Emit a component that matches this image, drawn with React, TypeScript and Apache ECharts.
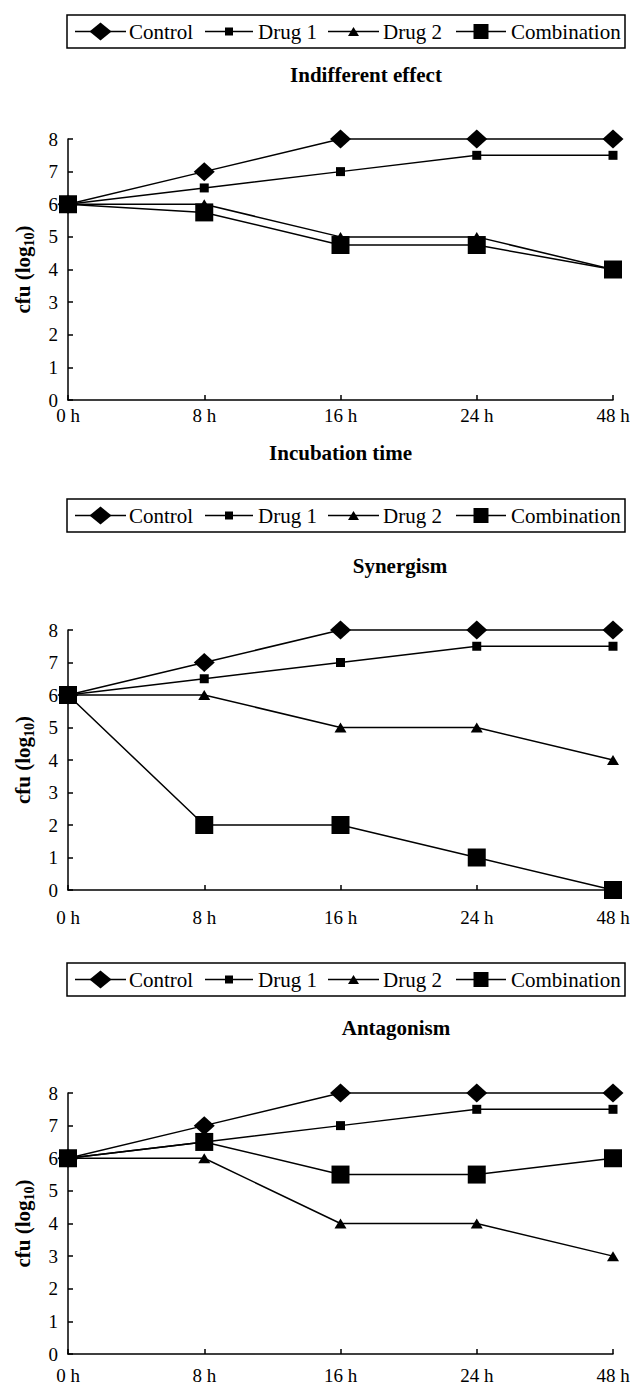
import React, { useEffect, useRef } from "react";
import * as echarts from "echarts";

// ---------- data ----------
const timeLabels = ["0 h", "8 h", "16 h", "24 h", "48 h"];
const seriesNames = ["Control", "Drug 1", "Drug 2", "Combination"];
const panelTitles = ["Indifferent effect", "Synergism", "Antagonism"];
const xAxisTitle = "Incubation time";
const yAxisMin = 0;
const yAxisMax = 8;
const yAxisStep = 1;

const indifferentControl = [6, 7, 8, 8, 8];
const indifferentDrug1 = [6, 6.5, 7, 7.5, 7.5];
const indifferentDrug2 = [6, 6, 5, 5, 4];
const indifferentCombination = [6, 5.75, 4.75, 4.75, 4];

const synergismControl = [6, 7, 8, 8, 8];
const synergismDrug1 = [6, 6.5, 7, 7.5, 7.5];
const synergismDrug2 = [6, 6, 5, 5, 4];
const synergismCombination = [6, 2, 2, 1, 0];

const antagonismControl = [6, 7, 8, 8, 8];
const antagonismDrug1 = [6, 6.5, 7, 7.5, 7.5];
const antagonismDrug2 = [6, 6, 4, 4, 3];
const antagonismCombination = [6, 6.5, 5.5, 5.5, 6];

const panelData = [
  [indifferentControl, indifferentDrug1, indifferentDrug2, indifferentCombination],
  [synergismControl, synergismDrug1, synergismDrug2, synergismCombination],
  [antagonismControl, antagonismDrug1, antagonismDrug2, antagonismCombination],
];

// ---------- styling / layout ----------
const FONT = "'Liberation Serif', 'Times New Roman', serif";
const INK = "#000";
const LW = 1.5;

const symbols: any[] = [
  { symbol: "diamond", size: [21, 19] },
  { symbol: "rect", size: 9 },
  { symbol: "triangle", size: [12, 10] },
  { symbol: "rect", size: 18 },
];

const layout = [
  { legendTop: 15, titleX: 366, titleY: 75, gridTop: 139, gridHeight: 261, labelMargin: 6 },
  { legendTop: 499, titleX: 400, titleY: 566, gridTop: 630, gridHeight: 260, labelMargin: 18 },
  { legendTop: 963, titleX: 396, titleY: 1028, gridTop: 1093, gridHeight: 261, labelMargin: 12 },
];

const GRID_LEFT = 68;
const GRID_WIDTH = 545;
const LEGEND_LEFT = 67;
const LEGEND_W = 558;
const LEGEND_H = 33;

function legendGroup(top: number) {
  const cy = LEGEND_H / 2;
  const items = [
    { x1: 8, x2: 59, mx: 33.5, tx: 62, kind: "diamond", w: 22, h: 18 },
    { x1: 138, x2: 186, mx: 162, tx: 191, kind: "rect", w: 8, h: 8 },
    { x1: 261, x2: 312, mx: 286.5, tx: 316, kind: "triangle", w: 11, h: 9 },
    { x1: 389, x2: 439, mx: 414, tx: 444, kind: "rect", w: 15, h: 15 },
  ];
  const children: any[] = [
    {
      type: "rect",
      shape: { x: 0, y: 0, width: LEGEND_W, height: LEGEND_H },
      style: { fill: "#fff", stroke: INK, lineWidth: LW },
    },
  ];
  items.forEach((it, i) => {
    children.push({
      type: "line",
      shape: { x1: it.x1, y1: cy, x2: it.x2, y2: cy },
      style: { stroke: INK, lineWidth: LW },
    });
    if (it.kind === "diamond") {
      children.push({
        type: "polygon",
        shape: {
          points: [
            [it.mx, cy - it.h / 2],
            [it.mx + it.w / 2, cy],
            [it.mx, cy + it.h / 2],
            [it.mx - it.w / 2, cy],
          ],
        },
        style: { fill: INK },
      });
    } else if (it.kind === "triangle") {
      children.push({
        type: "polygon",
        shape: {
          points: [
            [it.mx, cy - it.h / 2],
            [it.mx + it.w / 2, cy + it.h / 2],
            [it.mx - it.w / 2, cy + it.h / 2],
          ],
        },
        style: { fill: INK },
      });
    } else {
      children.push({
        type: "rect",
        shape: { x: it.mx - it.w / 2, y: cy - it.h / 2, width: it.w, height: it.h },
        style: { fill: INK },
      });
    }
    children.push({
      type: "text",
      style: {
        text: seriesNames[i],
        x: it.tx,
        y: cy,
        fontSize: 21,
        fontFamily: FONT,
        fill: INK,
        verticalAlign: "middle",
        textAlign: "left",
      },
    });
  });
  return { type: "group", x: LEGEND_LEFT, y: top, children };
}

export default function App() {
  const ref = useRef<HTMLDivElement>(null);

  useEffect(() => {
    if (!ref.current) return;
    const chart = echarts.init(ref.current, undefined, { renderer: "svg" });

    const grids = layout.map((l) => ({
      left: GRID_LEFT,
      top: l.gridTop,
      width: GRID_WIDTH,
      height: l.gridHeight,
    }));

    const xAxes = layout.map((l, i) => ({
      type: "category",
      gridIndex: i,
      data: timeLabels,
      boundaryGap: false,
      name: i === 0 ? xAxisTitle : "",
      nameLocation: "middle",
      nameGap: 42,
      nameTextStyle: { fontFamily: FONT, fontWeight: "bold", fontSize: 21, color: INK },
      axisLine: { show: true, lineStyle: { color: INK, width: LW } },
      axisTick: { show: true, inside: true, length: 5, lineStyle: { color: INK, width: LW } },
      axisLabel: { fontFamily: FONT, fontSize: 19, color: INK, margin: l.labelMargin },
      splitLine: { show: false },
    }));

    const yAxes = layout.map((l, i) => ({
      type: "value",
      gridIndex: i,
      min: yAxisMin,
      max: yAxisMax,
      interval: yAxisStep,
      name: "{b|cfu (log}{s|10}{b|)}",
      nameLocation: "middle",
      nameRotate: 90,
      nameGap: 32,
      nameTextStyle: {
        fontFamily: FONT,
        fontWeight: "bold",
        fontSize: 21,
        color: INK,
        rich: {
          b: { fontFamily: FONT, fontWeight: "bold", fontSize: 21, lineHeight: 26, color: INK },
          s: {
            fontFamily: FONT,
            fontWeight: "bold",
            fontSize: 14,
            lineHeight: 14,
            padding: [10, 0, 0, 0],
            verticalAlign: "bottom",
            color: INK,
          },
        },
      },
      axisLine: { show: true, lineStyle: { color: INK, width: LW } },
      axisTick: { show: true, inside: true, length: 5, lineStyle: { color: INK, width: LW } },
      axisLabel: { fontFamily: FONT, fontSize: 19, color: INK, margin: 10 },
      splitLine: { show: false },
    }));

    const series: any[] = [];
    panelData.forEach((sets, p) => {
      sets.forEach((vals, s) => {
        series.push({
          type: "line",
          name: seriesNames[s],
          xAxisIndex: p,
          yAxisIndex: p,
          data: vals,
          symbol: symbols[s].symbol,
          symbolSize: symbols[s].size,
          showSymbol: true,
          clip: false,
          silent: true,
          lineStyle: { color: INK, width: LW },
          itemStyle: { color: INK, borderWidth: 0 },
          z: 2 + s,
        });
      });
    });

    const graphics: any[] = [];
    layout.forEach((l, p) => {
      graphics.push(legendGroup(l.legendTop));
      graphics.push({
        type: "text",
        x: l.titleX,
        y: l.titleY,
        style: {
          text: panelTitles[p],
          fontFamily: FONT,
          fontWeight: "bold",
          fontSize: 21,
          fill: INK,
          textAlign: "center",
          verticalAlign: "middle",
        },
      });
    });

    chart.setOption({
      animation: false,
      backgroundColor: "#fff",
      grid: grids,
      xAxis: xAxes,
      yAxis: yAxes,
      series,
      graphic: graphics,
    });

    return () => chart.dispose();
  }, []);

  return (
    <div
      ref={ref}
      style={{ position: "absolute", left: 0, top: 0, width: 634, height: 1386, background: "#fff" }}
    />
  );
}
